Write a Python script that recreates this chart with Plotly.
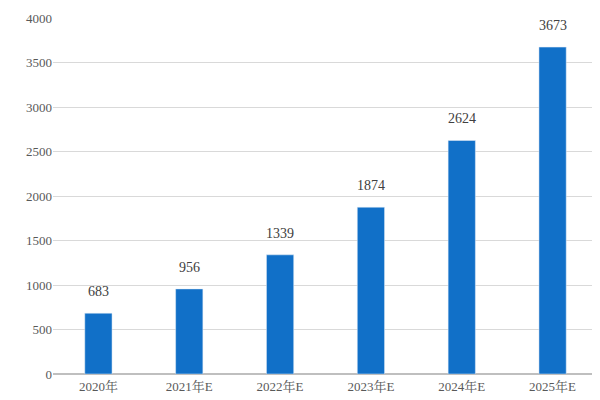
import plotly.graph_objects as go

categories = ["2020年", "2021年E", "2022年E", "2023年E", "2024年E", "2025年E"]
values = [683, 956, 1339, 1874, 2624, 3673]
tick_vals = [0, 500, 1000, 1500, 2000, 2500, 3000, 3500, 4000]

font = "Liberation Serif, Noto Serif CJK SC, Noto Sans CJK SC, serif"
fig = go.Figure(go.Bar(
    x=categories, y=values, marker_color="#1170C8", width=0.3,
))
for c, v in zip(categories, values):
    fig.add_annotation(x=c, y=v, text=str(v), showarrow=False, yanchor="bottom",
                       yshift=12, font=dict(family=font, size=14, color="#404040"))
fig.update_layout(
    width=600, height=400, margin=dict(l=45, r=10, t=10, b=34, autoexpand=False),
    plot_bgcolor="white", paper_bgcolor="white", showlegend=False,
    font=dict(family=font, size=13, color="#595959"),
)
fig.update_yaxes(range=[0, 4000], tickvals=tick_vals, showgrid=True,
                 gridcolor="#D9D9D9", zeroline=True, zerolinecolor="#BFBFBF",
                 ticks="", showline=False)
fig.update_xaxes(showline=True, linecolor="#BFBFBF", ticks="")
fig.write_html("out.html")
